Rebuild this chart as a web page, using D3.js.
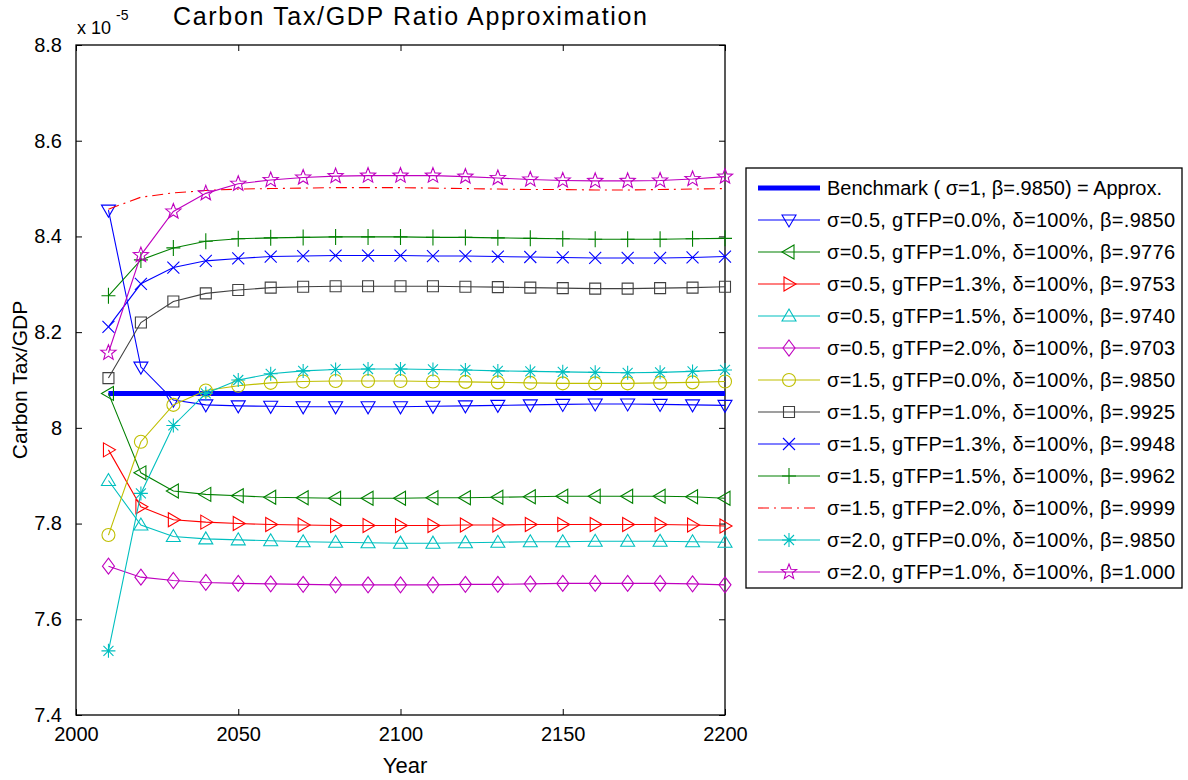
<!DOCTYPE html>
<html>
<head>
<meta charset="utf-8">
<script src="https://cdn.jsdelivr.net/npm/d3@7"></script>
<style>
  body { margin: 0; background: #fff; }
  svg { font-family: "Liberation Sans", Arial, sans-serif; }
</style>
</head>
<body>
<svg width="1188" height="780"></svg>
<script>
const years = [2010, 2020, 2030, 2040, 2050, 2060, 2070, 2080, 2090, 2100,
               2110, 2120, 2130, 2140, 2150, 2160, 2170, 2180, 2190, 2200];

const benchmark = [8.072, 8.072, 8.072, 8.072, 8.072, 8.072, 8.072, 8.072, 8.072, 8.072,
                   8.072, 8.072, 8.072, 8.072, 8.072, 8.072, 8.072, 8.072, 8.072, 8.072];

const s05g00 = [8.455, 8.127, 8.058, 8.048, 8.046, 8.045, 8.044, 8.044, 8.044, 8.044,
                8.045, 8.046, 8.047, 8.048, 8.049, 8.050, 8.050, 8.049, 8.048, 8.047];
const s05g10 = [8.072, 7.906, 7.868, 7.861, 7.858, 7.855, 7.854, 7.853, 7.853, 7.853,
                7.854, 7.854, 7.855, 7.856, 7.857, 7.857, 7.857, 7.857, 7.856, 7.853];
const s05g13 = [7.954, 7.835, 7.808, 7.803, 7.800, 7.798, 7.797, 7.796, 7.796, 7.796,
                7.796, 7.797, 7.797, 7.798, 7.798, 7.798, 7.798, 7.798, 7.797, 7.795];
const s05g15 = [7.890, 7.797, 7.773, 7.768, 7.766, 7.764, 7.762, 7.761, 7.760, 7.759,
                7.759, 7.760, 7.761, 7.762, 7.762, 7.763, 7.763, 7.763, 7.762, 7.761];
const s05g20 = [7.711, 7.688, 7.681, 7.677, 7.675, 7.674, 7.673, 7.672, 7.672, 7.672,
                7.672, 7.673, 7.673, 7.674, 7.675, 7.675, 7.675, 7.675, 7.674, 7.672];
const s15g00 = [7.776, 7.971, 8.048, 8.078, 8.088, 8.094, 8.097, 8.098, 8.098, 8.098,
                8.097, 8.096, 8.095, 8.094, 8.093, 8.093, 8.093, 8.094, 8.095, 8.097];
const s15g10 = [8.104, 8.220, 8.264, 8.281, 8.288, 8.293, 8.295, 8.296, 8.296, 8.296,
                8.296, 8.295, 8.294, 8.293, 8.292, 8.291, 8.291, 8.292, 8.293, 8.295];
const s15g13 = [8.211, 8.301, 8.335, 8.349, 8.354, 8.358, 8.359, 8.360, 8.360, 8.360,
                8.359, 8.359, 8.358, 8.357, 8.356, 8.355, 8.355, 8.355, 8.356, 8.358];
const s15g15 = [8.276, 8.351, 8.376, 8.390, 8.395, 8.397, 8.398, 8.399, 8.399, 8.399,
                8.398, 8.398, 8.397, 8.396, 8.395, 8.394, 8.394, 8.394, 8.395, 8.396];
const s15g20 = [8.457, 8.482, 8.491, 8.496, 8.499, 8.500, 8.501, 8.502, 8.502, 8.502,
                8.501, 8.500, 8.499, 8.498, 8.498, 8.497, 8.497, 8.498, 8.499, 8.500];
const s20g00 = [7.534, 7.863, 8.005, 8.072, 8.100, 8.113, 8.119, 8.122, 8.123, 8.123,
                8.122, 8.121, 8.119, 8.118, 8.117, 8.116, 8.115, 8.116, 8.118, 8.121];
const s20g10 = [8.157, 8.361, 8.452, 8.490, 8.510, 8.518, 8.523, 8.526, 8.527, 8.527,
                8.527, 8.525, 8.522, 8.519, 8.517, 8.516, 8.516, 8.517, 8.520, 8.525];

const xTicks = [2000, 2050, 2100, 2150, 2200];
const yTicks = [7.4, 7.6, 7.8, 8.0, 8.2, 8.4, 8.6, 8.8];

const labels = [
  "σ=0.5, gTFP=0.0%, δ=100%, β=.9850",
  "σ=0.5, gTFP=1.0%, δ=100%, β=.9776",
  "σ=0.5, gTFP=1.3%, δ=100%, β=.9753",
  "σ=0.5, gTFP=1.5%, δ=100%, β=.9740",
  "σ=0.5, gTFP=2.0%, δ=100%, β=.9703",
  "σ=1.5, gTFP=0.0%, δ=100%, β=.9850",
  "σ=1.5, gTFP=1.0%, δ=100%, β=.9925",
  "σ=1.5, gTFP=1.3%, δ=100%, β=.9948",
  "σ=1.5, gTFP=1.5%, δ=100%, β=.9962",
  "σ=1.5, gTFP=2.0%, δ=100%, β=.9999",
  "σ=2.0, gTFP=0.0%, δ=100%, β=.9850",
  "σ=2.0, gTFP=1.0%, δ=100%, β=1.000"
];
const benchLabel = "Benchmark ( σ=1, β=.9850) = Approx.";

const marker = {
  triDown:  "M-7,-5L7,-5L0,7Z",
  triLeft:  "M5,-7L5,7L-7,0Z",
  triRight: "M-5,-7L-5,7L7,0Z",
  triUp:    "M-7,5L7,5L0,-7Z",
  diamond:  "M0,-8L6,0L0,8L-6,0Z",
  circle:   "M6.5,0A6.5,6.5 0 1,1 -6.5,0A6.5,6.5 0 1,1 6.5,0Z",
  square:   "M-5.5,-5.5L5.5,-5.5L5.5,5.5L-5.5,5.5Z",
  cross:    "M-6,-6L6,6M-6,6L6,-6",
  plus:     "M-7,0L7,0M0,-8L0,8",
  none:     "",
  asterisk: "M-7,0L7,0M0,-7L0,7M-5,-5L5,5M-5,5L5,-5",
  star:     starPath(8, 3.4)
};

function starPath(R, r) {
  let pts = [];
  for (let i = 0; i < 10; i++) {
    let a = -Math.PI / 2 + i * Math.PI / 5,
        rad = i % 2 ? r : R;
    pts.push([rad * Math.cos(a), rad * Math.sin(a)]);
  }
  return "M" + pts.map(p => p[0].toFixed(2) + "," + p[1].toFixed(2)).join("L") + "Z";
}

const series = [
  {values: s05g00, color: "#0000ff", sym: "triDown"},
  {values: s05g10, color: "#008000", sym: "triLeft"},
  {values: s05g13, color: "#ff0000", sym: "triRight"},
  {values: s05g15, color: "#00bfbf", sym: "triUp"},
  {values: s05g20, color: "#bf00bf", sym: "diamond"},
  {values: s15g00, color: "#bfbf00", sym: "circle"},
  {values: s15g10, color: "#404040", sym: "square"},
  {values: s15g13, color: "#0000ff", sym: "cross"},
  {values: s15g15, color: "#008000", sym: "plus"},
  {values: s15g20, color: "#ff0000", sym: "none", dash: "11,5,2,5"},
  {values: s20g00, color: "#00bfbf", sym: "asterisk"},
  {values: s20g10, color: "#bf00bf", sym: "star"}
];
series.forEach((s, i) => s.label = labels[i]);

let svg     = d3.select("svg"),
    pLeft   = 76, pRight = 725, pTop = 45, pBottom = 715,
    x       = d3.scaleLinear().domain([2000, 2200]).range([pLeft, pRight]),
    y       = d3.scaleLinear().domain([7.4, 8.8]).range([pBottom, pTop]),
    line    = d3.line().x((d, i) => x(years[i])).y(d => y(d));

// axes box with inward ticks on all sides
let gAxes = svg.append("g");

gAxes.append("g")
  .attr("transform", `translate(0,${pBottom})`)
  .call(d3.axisBottom(x).tickValues(xTicks).tickSize(-6).tickPadding(12).tickFormat(d3.format("d")));
gAxes.append("g")
  .attr("transform", `translate(0,${pTop})`)
  .call(d3.axisTop(x).tickValues(xTicks).tickSize(-6).tickFormat(""));
gAxes.append("g")
  .attr("transform", `translate(${pLeft},0)`)
  .call(d3.axisLeft(y).tickValues(yTicks).tickSize(-6).tickPadding(14).tickFormat(d => d === 8 ? "8" : d3.format(".1f")(d)));
gAxes.append("g")
  .attr("transform", `translate(${pRight},0)`)
  .call(d3.axisRight(y).tickValues(yTicks).tickSize(-6).tickFormat(""));

gAxes.selectAll(".domain").remove();
gAxes.selectAll(".tick line").attr("stroke", "#000");
gAxes.selectAll("text").attr("font-size", 20).attr("fill", "#000")
  .attr("font-family", "Liberation Sans, Arial, sans-serif");

gAxes.append("rect")
  .attr("x", pLeft).attr("y", pTop)
  .attr("width", pRight - pLeft).attr("height", pBottom - pTop)
  .attr("fill", "none").attr("stroke", "#000").attr("stroke-width", 1.3);

// benchmark
svg.append("path")
  .datum(benchmark)
  .attr("d", line)
  .attr("fill", "none")
  .attr("stroke", "#0000ff")
  .attr("stroke-width", 5);

series.forEach(s => {
  let g = svg.append("g");
  g.append("path")
    .datum(s.values)
    .attr("d", line)
    .attr("fill", "none")
    .attr("stroke", s.color)
    .attr("stroke-width", 1.1)
    .attr("stroke-dasharray", s.dash || null);
  if (s.sym !== "none") {
    g.selectAll("path.mk")
      .data(s.values)
      .enter().append("path")
        .attr("class", "mk")
        .attr("d", marker[s.sym])
        .attr("transform", (d, i) => `translate(${x(years[i])},${y(d)})`)
        .attr("fill", "none")
        .attr("stroke", s.color)
        .attr("stroke-width", 1.1);
  }
});

// titles
svg.append("text")
  .attr("x", 410).attr("y", 25)
  .attr("text-anchor", "middle")
  .attr("font-size", 25)
  .attr("textLength", 474).attr("lengthAdjust", "spacing")
  .text("Carbon Tax/GDP Ratio Approximation");

svg.append("text")
  .attr("x", 405).attr("y", 773)
  .attr("text-anchor", "middle")
  .attr("font-size", 22)
  .text("Year");

svg.append("text")
  .attr("transform", "translate(27,380) rotate(-90)")
  .attr("text-anchor", "middle")
  .attr("font-size", 21)
  .text("Carbon Tax/GDP");

svg.append("text")
  .attr("x", 77).attr("y", 34)
  .attr("font-size", 18)
  .text("x 10");
svg.append("text")
  .attr("x", 116).attr("y", 20)
  .attr("font-size", 14)
  .text("-5");

// legend
let leg = svg.append("g");
leg.append("rect")
  .attr("x", 746).attr("y", 168)
  .attr("width", 436).attr("height", 420)
  .attr("fill", "#fff").attr("stroke", "#000").attr("stroke-width", 1.3);

let rowY = i => 188 + 32 * i;

leg.append("line")
  .attr("x1", 758).attr("x2", 820)
  .attr("y1", rowY(0)).attr("y2", rowY(0))
  .attr("stroke", "#0000ff").attr("stroke-width", 5);
leg.append("text")
  .attr("x", 827).attr("y", rowY(0))
  .attr("dy", "0.35em")
  .attr("font-size", 20)
  .attr("textLength", 335).attr("lengthAdjust", "spacing")
  .text(benchLabel);

series.forEach((s, i) => {
  let yy = rowY(i + 1);
  leg.append("line")
    .attr("x1", 758).attr("x2", 820)
    .attr("y1", yy).attr("y2", yy)
    .attr("stroke", s.color).attr("stroke-width", 1.1)
    .attr("stroke-dasharray", s.dash || null);
  if (s.sym !== "none") {
    leg.append("path")
      .attr("d", marker[s.sym])
      .attr("transform", `translate(789,${yy})`)
      .attr("fill", "none")
      .attr("stroke", s.color)
      .attr("stroke-width", 1.1);
  }
  leg.append("text")
    .attr("x", 827).attr("y", yy)
    .attr("dy", "0.35em")
    .attr("font-size", 20)
    .attr("textLength", 348).attr("lengthAdjust", "spacing")
    .text(s.label);
});
</script>
</body>
</html>
